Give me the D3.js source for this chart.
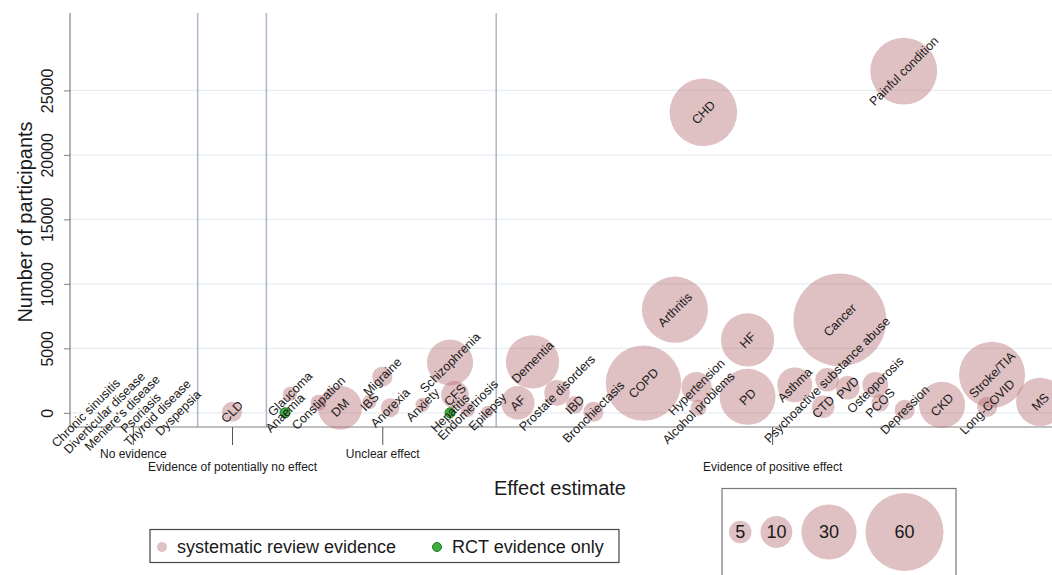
<!DOCTYPE html>
<html>
<head>
<meta charset="utf-8">
<script src="https://cdn.jsdelivr.net/npm/d3@7"></script>
<style>
    body { margin: 0; background: #fff; }
    svg { display: block; font-family: "Liberation Sans", Arial, sans-serif; }
    .grid line { stroke: #e6edf2; stroke-width: 1.2; }
    .divider { stroke: #a9b9c9; stroke-width: 1.5; }
    .axis-line { stroke: #808080; stroke-width: 1.2; }
    .bubble { fill: #b8737b; fill-opacity: 0.45; }
    .rct { fill: #3fae3f; stroke: #237a23; stroke-width: 1; }
    .lbl { fill: #1a1a1a; font-size: 12.5px; }
</style>
</head>
<body>
<div id="chart"></div>
<script>
// conditions, in order along the effect axis
var conditions = [
    "Chronic sinusitis", "Diverticular disease", "Meniere's disease", "Psoriasis",
    "Thyroid disease", "Dyspepsia", "CLD", "Anaemia", "Glaucoma", "Constipation",
    "DM", "IBS", "Migraine", "Anorexia", "Anxiety", "Hepatitis", "Schizophrenia",
    "CFS", "Endometriosis", "Epilepsy", "AF", "Dementia", "Prostate disorders",
    "IBD", "Bronchiectasis", "COPD", "Arthritis", "Hypertension", "Alcohol problems",
    "CHD", "PD", "HF", "Asthma", "CTD", "Psychoactive substance abuse", "Cancer",
    "PVD", "Osteoporosis", "PCOS", "Painful condition", "Depression", "CKD",
    "Long-COVID", "Stroke/TIA", "MS"
];
// position on the effect estimate axis (0-100)
var effectPos = [
    1.6, 3.5, 5.3, 7.2, 8.9, 11.0, 16.5, 21.9, 22.4, 25.3,
    27.5, 30.5, 31.8, 32.6, 35.9, 38.7, 38.7,
    39.2, 40.5, 42.5, 45.6, 47.1, 49.6,
    51.4, 53.3, 58.4, 61.6, 63.8, 64.0,
    64.5, 69.0, 69.0, 73.8, 76.7, 77.1, 78.4,
    79.2, 82.0, 82.5, 84.9, 85.0, 88.8,
    93.4, 93.9, 98.8
];
// number of participants
var participants = [
    0, 0, 0, 0, 0, 0, 80, 0, 1470, 775,
    390, 850, 2800, 390, 620, 0, 3900,
    1400, 230, 80, 775, 3950, 1550,
    620, 80, 2300, 8000, 2000, 390,
    23300, 1240, 5650, 2170, 465, 2560, 7200,
    1940, 2170, 775, 26500, 230, 620,
    465, 2950, 850
];
// number of studies (bubble size)
var studies = [
    0, 0, 0, 0, 0, 0, 4, 0, 2, 2.5,
    19, 2, 4, 3.5, 2, 0, 21,
    7.5, 2, 1.4, 11, 28, 6.5,
    3, 4, 56, 43, 9, 2.5,
    45, 31, 28, 12, 5, 5.5, 85,
    5.5, 6.5, 3, 44, 4, 21,
    4, 43, 23
];
// sr = systematic review, rct = RCT only, none = no evidence
var evidence = [
    "none", "none", "none", "none", "none", "none", "sr", "rct", "sr", "sr",
    "sr", "sr", "sr", "sr", "sr", "rct", "sr",
    "sr", "sr", "sr", "sr", "sr", "sr",
    "sr", "sr", "sr", "sr", "sr", "sr",
    "sr", "sr", "sr", "sr", "sr", "sr", "sr",
    "sr", "sr", "sr", "sr", "sr", "sr",
    "sr", "sr", "sr"
];

var groupLabels = ["No evidence", "Evidence of potentially no effect", "Unclear effect", "Evidence of positive effect"];
var groupPos = [6.4, 16.5, 31.8, 71.5];
var dividerPos = [13.0, 20.0, 43.4];
var yTicks = [0, 5000, 10000, 15000, 20000, 25000];
var legendSizes = [5, 10, 30, 60];

function drawChart() {
    "use strict";

    var width = 1052;
    var height = 575;
    var svg = d3.select("#chart")
        .append("svg")
        .attr("width", width)
        .attr("height", height);

    var x = d3.scaleLinear().domain([0, 100]).range([70, 1052]);
    var y = d3.scaleLinear().domain([-1100, 31000]).range([427, 13]);
    var r = d3.scaleSqrt().domain([0, 60]).range([0, 39]);

    var rows = conditions.map(function(name, i) {
        return {
            name: name,
            pos: effectPos[i],
            n: participants[i],
            k: studies[i],
            type: evidence[i]
        };
    });

    // grid lines
    svg.append("g")
        .attr("class", "grid")
        .selectAll("line")
        .data(yTicks)
        .enter()
        .append("line")
        .attr("x1", x(0))
        .attr("x2", x(100))
        .attr("y1", function(d) { return y(d); })
        .attr("y2", function(d) { return y(d); });

    // group dividers
    svg.selectAll("line.divider")
        .data(dividerPos)
        .enter()
        .append("line")
        .attr("class", "divider")
        .attr("x1", function(d) { return x(d); })
        .attr("x2", function(d) { return x(d); })
        .attr("y1", y.range()[1])
        .attr("y2", y.range()[0]);

    // y axis
    var yAxis = svg.append("g")
        .attr("transform", "translate(" + x(0) + ",0)")
        .call(d3.axisLeft(y).tickValues(yTicks).tickSize(6).tickFormat(d3.format("d")));
    yAxis.select(".domain").attr("class", "axis-line").attr("d", "M0," + y.range()[1] + "V" + y.range()[0]);
    yAxis.selectAll(".tick line").attr("stroke", "#808080");
    yAxis.selectAll(".tick text")
        .attr("x", 0)
        .attr("y", 0)
        .attr("dy", 0)
        .attr("transform", "translate(-17,0) rotate(-90)")
        .attr("text-anchor", "middle")
        .attr("fill", "#1a1a1a")
        .style("font-size", "16px");

    // x axis with group ticks
    var xAxis = svg.append("g")
        .attr("transform", "translate(0," + y.range()[0] + ")")
        .call(d3.axisBottom(x).tickValues(groupPos).tickSize(18)
            .tickFormat(function(d, i) { return groupLabels[i]; }));
    xAxis.select(".domain").attr("class", "axis-line").attr("d", "M" + x(0) + ",0H" + x(100));
    xAxis.selectAll(".tick line").attr("stroke", "#555");
    xAxis.selectAll(".tick text")
        .attr("y", function(d, i) { return i % 2 === 0 ? 31 : 44; })
        .attr("dy", 0)
        .attr("fill", "#1a1a1a")
        .style("font-size", "12px");

    // bubbles
    svg.selectAll("circle.bubble")
        .data(rows.filter(function(d) { return d.type === "sr"; }))
        .enter()
        .append("circle")
        .attr("class", "bubble")
        .attr("cx", function(d) { return x(d.pos); })
        .attr("cy", function(d) { return y(d.n); })
        .attr("r", function(d) { return r(d.k); });

    svg.selectAll("circle.rct")
        .data(rows.filter(function(d) { return d.type === "rct"; }))
        .enter()
        .append("circle")
        .attr("class", "rct")
        .attr("cx", function(d) { return x(d.pos); })
        .attr("cy", function(d) { return y(d.n); })
        .attr("r", 5);

    // labels, rotated 45 degrees at each point
    svg.selectAll("text.lbl")
        .data(rows)
        .enter()
        .append("text")
        .attr("class", "lbl")
        .attr("text-anchor", "middle")
        .attr("dy", "0.35em")
        .attr("transform", function(d) {
            return "translate(" + x(d.pos) + "," + y(d.n) + ") rotate(-45)";
        })
        .text(function(d) { return d.name; });

    // axis titles
    svg.append("text")
        .attr("transform", "translate(32,222) rotate(-90)")
        .attr("text-anchor", "middle")
        .attr("fill", "#1a1a1a")
        .style("font-size", "20px")
        .text("Number of participants");
    svg.append("text")
        .attr("x", 560)
        .attr("y", 495)
        .attr("text-anchor", "middle")
        .attr("fill", "#1a1a1a")
        .style("font-size", "20px")
        .text("Effect estimate");

    // evidence type legend
    var leg = svg.append("g");
    leg.append("rect")
        .attr("x", 150).attr("y", 529.5)
        .attr("width", 469).attr("height", 33)
        .attr("fill", "none").attr("stroke", "#444").attr("stroke-width", 1.2);
    leg.append("circle").attr("class", "bubble").attr("cx", 162).attr("cy", 547).attr("r", 5);
    leg.append("text").attr("x", 177).attr("y", 553).style("font-size", "18px").attr("fill", "#1a1a1a")
        .text("systematic review evidence");
    leg.append("circle").attr("class", "rct").attr("cx", 437).attr("cy", 547).attr("r", 4.5);
    leg.append("text").attr("x", 452).attr("y", 553).style("font-size", "18px").attr("fill", "#1a1a1a")
        .text("RCT evidence only");

    // bubble size legend
    var sleg = svg.append("g");
    sleg.append("rect")
        .attr("x", 722).attr("y", 488.5)
        .attr("width", 234).attr("height", 120)
        .attr("fill", "none").attr("stroke", "#777").attr("stroke-width", 1.2);
    var sx = 729;
    var sizeItems = legendSizes.map(function(k) {
        var rad = r(k);
        var cx = sx + rad;
        sx = cx + rad + 9;
        return { k: k, cx: cx, rad: rad };
    });
    sleg.selectAll("circle")
        .data(sizeItems)
        .enter()
        .append("circle")
        .attr("class", "bubble")
        .attr("cx", function(d) { return d.cx; })
        .attr("cy", 532)
        .attr("r", function(d) { return d.rad; });
    sleg.selectAll("text")
        .data(sizeItems)
        .enter()
        .append("text")
        .attr("x", function(d) { return d.cx; })
        .attr("y", 532)
        .attr("dy", "0.35em")
        .attr("text-anchor", "middle")
        .attr("fill", "#1a1a1a")
        .style("font-size", "18px")
        .text(function(d) { return d.k; });
}

drawChart();
</script>
</body>
</html>
